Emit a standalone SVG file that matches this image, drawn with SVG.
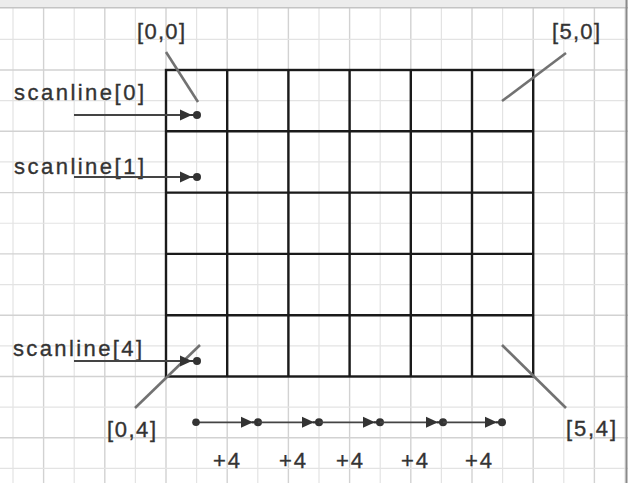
<svg xmlns="http://www.w3.org/2000/svg" width="628" height="483" viewBox="0 0 628 483">
<style>
.minor{stroke:#e3e3e3;stroke-width:1.2;fill:none}
.major{stroke:#d2d2d2;stroke-width:1.4;fill:none}
.cell{stroke:#1a1a1a;stroke-width:2.4;fill:none}
.lbl{font-family:"Liberation Sans",Arial,sans-serif;font-size:22px;fill:#333;stroke:#333;stroke-width:0.35}
.ptr{stroke:#727272;stroke-width:2.6;fill:none}
.arr{stroke:#444;stroke-width:1.8;fill:none}
</style>
<defs>
<marker id="tipdot" viewBox="0 0 22 12" refX="17" refY="6" markerWidth="22" markerHeight="12" markerUnits="userSpaceOnUse" orient="auto">
<polygon points="0,0.5 12,6 0,11.5" fill="#333"/>
<circle cx="17" cy="6" r="4" fill="#333"/>
<line x1="11" y1="6" x2="17" y2="6" stroke="#333" stroke-width="2"/>
</marker>
<marker id="dot" viewBox="0 0 10 10" refX="5" refY="5" markerWidth="10" markerHeight="10" markerUnits="userSpaceOnUse">
<circle cx="5" cy="5" r="3.8" fill="#333"/>
</marker>
</defs>
<rect x="0" y="0" width="628" height="483" fill="#ffffff"/>
<g id="background-grid">
<path class="minor" d="M13,8V483M74.2,8V483M135.4,8V483M196.6,8V483M257.8,8V483M319,8V483M380.2,8V483M441.4,8V483M502.6,8V483M563.8,8V483M625,8V483"/>
<path class="major" d="M43.6,8V483M104.8,8V483M166,8V483M227.2,8V483M288.4,8V483M349.6,8V483M410.8,8V483M472,8V483M533.2,8V483M594.4,8V483"/>
<path class="minor" d="M0,39.35H628M0,100.65H628M0,161.95H628M0,223.25H628M0,284.55H628M0,345.85H628M0,407.15H628M0,468.45H628"/>
<path class="major" d="M0,70H628M0,131.3H628M0,192.6H628M0,253.9H628M0,315.2H628M0,376.5H628M0,437.8H628"/>
</g>
<g id="title-bar">
<rect x="0" y="0" width="628" height="7.5" fill="#ececec"/>
<line x1="0" y1="7.8" x2="628" y2="7.8" stroke="#c4c4c4" stroke-width="1.4"/>
<line x1="626.5" y1="0" x2="626.5" y2="483" stroke="#8a8a8a" stroke-width="2"/>
</g>
<g id="pixel-grid">
<rect class="cell" x="166" y="70" width="367.2" height="306.5"/>
<path class="cell" d="M227.2,70V376.5M288.4,70V376.5M349.6,70V376.5M410.8,70V376.5M472,70V376.5M166,131.3H533.2M166,192.6H533.2M166,253.9H533.2M166,315.2H533.2"/>
</g>
<g id="label-00"><text class="lbl" x="137" y="39" textLength="48" lengthAdjust="spacing">[0,0]</text></g>
<g id="label-50"><text class="lbl" x="552" y="39" textLength="48" lengthAdjust="spacing">[5,0]</text></g>
<g id="label-04"><text class="lbl" x="107" y="437" textLength="49" lengthAdjust="spacing">[0,4]</text></g>
<g id="label-54"><text class="lbl" x="566" y="436" textLength="50" lengthAdjust="spacing">[5,4]</text></g>
<g id="label-scan0"><text class="lbl" x="14" y="100" textLength="130" lengthAdjust="spacing">scanline[0]</text></g>
<g id="label-scan1"><text class="lbl" x="14" y="174" textLength="130" lengthAdjust="spacing">scanline[1]</text></g>
<g id="label-scan4"><text class="lbl" x="13" y="356" textLength="129" lengthAdjust="spacing">scanline[4]</text></g>
<g id="step-labels">
<text class="lbl" x="213" y="468" textLength="27" lengthAdjust="spacing">+4</text>
<text class="lbl" x="279" y="468" textLength="27" lengthAdjust="spacing">+4</text>
<text class="lbl" x="336" y="468" textLength="27" lengthAdjust="spacing">+4</text>
<text class="lbl" x="401" y="468" textLength="27" lengthAdjust="spacing">+4</text>
<text class="lbl" x="465" y="468" textLength="27" lengthAdjust="spacing">+4</text>
</g>
<g id="connectors">
<line class="ptr" x1="166" y1="52" x2="198" y2="102"/>
<line class="ptr" x1="566" y1="53" x2="502" y2="101"/>
<line class="ptr" x1="200" y1="345" x2="135" y2="408"/>
<line class="ptr" x1="502" y1="345" x2="566" y2="408"/>
<line class="arr" x1="74" y1="115" x2="197" y2="115" marker-end="url(#tipdot)"/>
<line class="arr" x1="74" y1="177" x2="197" y2="177" marker-end="url(#tipdot)"/>
<line class="arr" x1="74" y1="361" x2="197" y2="361" marker-end="url(#tipdot)"/>
<line class="arr" x1="196" y1="422.3" x2="258" y2="422.3" marker-start="url(#dot)" marker-end="url(#tipdot)"/>
<line class="arr" x1="258" y1="422.3" x2="319" y2="422.3" marker-end="url(#tipdot)"/>
<line class="arr" x1="319" y1="422.3" x2="380" y2="422.3" marker-end="url(#tipdot)"/>
<line class="arr" x1="380" y1="422.3" x2="443" y2="422.3" marker-end="url(#tipdot)"/>
<line class="arr" x1="443" y1="422.3" x2="502" y2="422.3" marker-end="url(#tipdot)"/>
</g>
</svg>
